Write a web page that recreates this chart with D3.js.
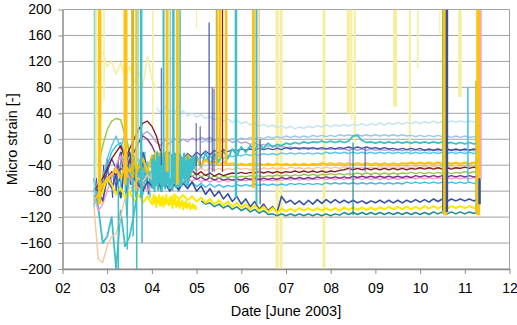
<!DOCTYPE html>
<html>
<head>
<meta charset="utf-8">
<script src="https://cdn.jsdelivr.net/npm/d3@7"></script>
<style>
  body { margin: 0; background: #fff; }
  text { font-family: Arial, "Liberation Sans", sans-serif; }
</style>
</head>
<body>
<svg id="chart" width="517" height="325"></svg>
<script>
// sample times in days of June 2003 (logger every 0.1 day), 2.7 .. 11.3
const days = d3.range(27, 114).map(d => d / 10)
// dense samples: start-up (2.72 .. 3.96) and the noisy stretch (4.0 .. 5.0)
const earlyDays = d3.range(68, 100).map(d => d / 25)
const noiseDays = d3.range(200, 251).map(d => d / 50)

const xTicks = [2, 3, 4, 5, 6, 7, 8, 9, 10, 11, 12]
const yTicks = [-200, -160, -120, -80, -40, 0, 40, 80, 120, 160, 200]

// micro strain per sensor (null = no reading / off scale)
const paleYellow = [null, null, 135, 112, 120, 100, 118, 96, 112, 88,
  105, 82, 128, 92, 78]

const paleCyan = [null, null, null, null, null, null, null, null, null, null,
  null, null, null, null, 48, 40, 50, 42, 45, 38,
  44, 36, 40, 34, 38, 32, 35, 30, 33, 28,
  31, 26, 29, 24, 27, 22, 25, 20, 23, 19,
  22, 18, 21, 17, 20, 16, 19, 17, 20, 18,
  21, 19, 22, 19, 22, 20, 23, 20, 23, 21,
  24, 21, 24, 22, 25, 22, 25, 23, 26, 23,
  26, 24, 27, 24, 27, 25, 28, 25, 28, 26,
  28, 26, 28, 26, 28, 27, 28]

const paleBlue = [null, null, null, null, null, null, null, null, null, null,
  null, null, null, null, null, null, null, null, null, null,
  null, null, null, null, -5, -2, -4, -1, -3, 0,
  -2, 1, -1, 2, 0, 3, 1, 3, 1, 4,
  2, 4, 2, 5, 3, 5, 3, 5, 3, 6,
  4, 6, 4, 6, 4, 7, 5, 7, 5, 7,
  5, 7, 5, 7, 5, 7, 5, 7, 5, 7,
  5, 6, 4, 6, 4, 6, 4, 6, 4, 5,
  3, 5, 3, 5, 3, 4, 3]

const lavender = [null, null, null, null, -80, -60, -40, -50, -30, -20,
  -5, 8, 12, 5, -5, -10, 0, -8, 2, -5,
  0, -4, 2, -2, 3, 0, 3, -2, 2, -4,
  0, -5, -2, -6, -4, -8, -6, -9, -8, -11,
  -10, -12, -11, -13, -12, -14, -13, -15, -13, -15,
  -14, -16, -14, -16, -14, -16, -15, -17, -15, -17,
  -15, -17, -15, -17, -16, -17, -16, -18, -16, -18,
  -16, -18, -16, -18, -16, -18, -16, -18, -16, -18,
  -16, -18, -16, -18, -16, -18, -17]

const navy2 = [-100, -90, -70, -50, -30, -45, -20, -60, -30, -50,
  -40, -20, -45, -30, -50, -35, -40, -20, -35, -25,
  -30, -22, -28, -20, -25, -18, -24, -17, -22, -16,
  -19, -16, -18, -15, -17, -15, -17, -14, -16, -14,
  -16, -14, -16, -13, -15, -13, -15, -13, -15, -13,
  -15, -13, -15, -13, -15, -13, -14, -12, -14, -12,
  -14, -12, -14, -13, -15, -13, -15, -14, -16, -14,
  -16, -14, -16, -14, -17, -15, -17, -15, -17, -15,
  -17, -15, -17, -15, -17, -15, -16]

const cyan = [null, null, -60, -30, -10, 5, -15, 10, -20, -40,
  -30, -50, -35, -45, -30, -40, -28, -38, -30, -36,
  -30, -34, -28, -33, -27, -32, -26, -31, -25, -30,
  -25, -27, -24, -26, -23, -25, -23, -25, -22, -24,
  -22, -24, -21, -23, -21, -23, -21, -23, -21, -23,
  -21, -23, -20, -22, -20, -22, -20, -22, -20, -22,
  -20, -22, -20, -22, -20, -22, -20, -22, -20, -22,
  -20, -22, -20, -22, -20, -22, -20, -22, -20, -22,
  -20, -22, -20, -22, -20, -22, -21]

const turq = [-60, -105, -160, -150, -120, -200, -110, -165, -150, -115,
  -70, -80, -40, -75, -30, -80, -20, -75, -25, -80,
  -30, -70, -35, -25, -45, -20, -40, -22, -35, -18,
  -30, -15, -25, -12, -20, -10, -16, -8, -14, -6,
  -12, -8, -10, -6, -8, -5, -7, -4, -6, -4,
  -5, -3, -5, -3, -5, -3, -5, -3, 5, 6,
  -2, -5, -4, -6, -4, -6, -4, -6, -4, -6,
  -4, -6, -4, -6, -4, -6, -4, -6, -4, -6,
  -5, -7, -5, -7, -5, -7, -6]

const lightBlue = [-95, -80, -60, -40, -20, -10, -5, -25, -45, -60,
  -55, -62, -50, -65, -58, -68, -60, -70, -62, -72,
  -64, -72, -66, -73, -68, -74, -69, -74, -70, -74,
  -71, -73, -70, -72, -70, -72, -69, -71, -69, -71,
  -69, -71, -69, -71, -68, -70, -68, -70, -68, -70,
  -68, -70, -67, -69, -67, -69, -67, -69, -67, -69,
  -67, -69, -67, -69, -67, -69, -67, -69, -67, -69,
  -66, -68, -66, -68, -66, -68, -66, -68, -66, -68,
  -66, -68, -66, -68, -66, -68, -67]

const pink = [-85, -110, -100, -80, -60, -40, -25, -45, -60, -70,
  -75, -68, -80, -70, -72, -65, -70, -62, -68, -60,
  -66, -60, -65, -60, -66, -62, -66, -62, -66, -63,
  -65, -63, -65, -63, -64, -62, -64, -62, -64, -62,
  -64, -62, -63, -61, -63, -61, -63, -61, -63, -61,
  -62, -60, -62, -60, -62, -60, -62, -60, -62, -60,
  -62, -60, -62, -60, -62, -60, -62, -60, -62, -60,
  -61, -59, -61, -59, -61, -59, -61, -59, -61, -59,
  -61, -59, -61, -59, -61, -59, -60]

const purple = [-90, -85, -75, -60, -50, -55, -45, -50, -35, -20,
  -5, 5, 0, -10, -25, -40, -50, -55, -52, -58,
  -55, -60, -57, -62, -58, -63, -59, -63, -60, -63,
  -61, -63, -61, -63, -60, -62, -60, -62, -60, -62,
  -60, -62, -59, -61, -59, -61, -59, -61, -59, -61,
  -58, -60, -58, -60, -58, -60, -58, -60, -57, -59,
  -57, -59, -57, -59, -57, -59, -57, -59, -57, -59,
  -57, -59, -56, -58, -56, -58, -56, -58, -56, -58,
  -56, -58, -56, -58, -56, -58, -57]

const green = [null, -40, -10, 15, 28, 32, 30, 5, -20, -40,
  -50, -45, -55, -48, -58, -50, -60, -52, -58, -50,
  -56, -50, -57, -52, -58, -54, -60, -56, -60, -57,
  -59, -57, -59, -57, -58, -56, -58, -56, -58, -56,
  -57, -55, -57, -55, -57, -55, -56, -54, -56, -54,
  -56, -54, -55, -53, -55, -53, -55, -53, -54, -52,
  -54, -52, -54, -52, -54, -52, -54, -52, -54, -52,
  -53, -51, -53, -51, -53, -51, -53, -51, -53, -51,
  -53, -51, -52, -50, -52, -50, -51]

const peach = [-100, -185, -190, -165, -150, -145, -120, -90, -75, -70,
  -60, -65, -55, -62, -50, -58, -48, -55, -45, -52,
  -44, -50, -42, -48, -44, -49, -44, -48, -45, -48,
  -45, -47, -44, -46, -45, -47, -45, -47, -44, -46,
  -44, -46, -44, -46, -43, -45, -44, -46, -44, -46,
  -43, -45, -43, -45, -43, -45, -42, -44, -43, -45,
  -43, -45, -43, -45, -42, -44, -42, -44, -42, -44,
  -42, -44, -42, -44, -42, -44, -42, -44, -42, -44,
  -42, -44, -42, -44, -42, -44, -43]

const darkRed = [-80, -70, -60, -45, -30, -20, -10, -30, -15, 0,
  15, 25, 28, 20, 5, -20, -35, -45, -40, -50,
  -45, -52, -48, -55, -50, -56, -52, -57, -53, -56,
  -54, -52, -53, -51, -53, -51, -52, -50, -52, -50,
  -52, -50, -52, -50, -51, -49, -51, -49, -51, -49,
  -51, -49, -51, -49, -50, -48, -47, -45, -47, -45,
  -47, -45, -47, -45, -47, -45, -47, -45, -47, -45,
  -47, -45, -46, -44, -46, -44, -46, -44, -46, -44,
  -46, -44, -45, -43, -45, -43, -44]

const teal = [null, null, null, null, null, null, null, null, null, null,
  null, null, null, null, null, null, null, null, null, null,
  null, null, null, null, -95, -100, -98, -104, -100, -106,
  -102, -108, -104, -110, -106, -112, -108, -114, -110, -116,
  -115, -118, -115, -118, -115, -118, -115, -118, -115, -118,
  -115, -118, -115, -118, -115, -117, -113, -116, -113, -116,
  -113, -116, -113, -116, -113, -116, -113, -116, -113, -116,
  -113, -116, -113, -116, -113, -116, -112, -115, -112, -115,
  -112, -115, -112, -115, -112, -114, -113]

const navy = [-75, -80, -95, -60, -75, -55, -90, -40, -20, -60,
  -70, -80, -65, -72, -60, -75, -68, -80, -70, -78,
  -68, -76, -66, -80, -72, -85, -76, -88, -80, -92,
  -84, -96, -88, -100, -92, -104, -96, -108, -100, -110,
  -104, -113, -88, -98, -94, -100, -95, -101, -94, -100,
  -93, -99, -93, -98, -93, -98, -94, -98, -94, -98,
  -95, -99, -95, -98, -94, -98, -94, -98, -94, -98,
  -94, -97, -93, -97, -93, -97, -92, -96, -92, -96,
  -92, -95, -92, -95, -92, -95, -93]

const yellow = [null, -95, -80, -60, -70, -85, -75, -90, -80, -95,
  -85, -98, -88, -100, -90, -102, -92, -100, -85, -92,
  -86, -94, -88, -96, -90, -98, -92, -100, -94, -102,
  -96, -104, -98, -106, -100, -108, -102, -110, -104, -112,
  -106, -113, -107, -111, -107, -111, -106, -110, -106, -110,
  -106, -110, -106, -110, -106, -110, -105, -109, -105, -109,
  -105, -109, -105, -109, -105, -108, -104, -108, -104, -108,
  -104, -108, -104, -108, -103, -107, -103, -107, -103, -107,
  -103, -106, -103, -106, -103, -106, -104]

const gold = [-95, -85, -70, -60, -55, -45, -60, -40, -50, -35,
  -45, -30, -50, -25, -40, -20, -45, -28, -35, -22,
  -38, -25, -35, -30, -40, -32, -38, -34, -40, -35,
  -39, -37, -40, -38, -40, -38, -40, -38, -40, -38,
  -40, -38, -40, -38, -40, -38, -40, -38, -40, -38,
  -39, -37, -39, -37, -39, -37, -39, -37, -39, -37,
  -39, -37, -39, -37, -39, -37, -39, -37, -39, -37,
  -38, -36, -38, -36, -38, -36, -38, -36, -38, -36,
  -38, -36, -38, -36, -38, -36, -37]

// dense readings at start-up, day 2.72 .. 3.96
const navyEarly = [-80, -60, -95, -50, -85, -40, -75, -30, -70, -55,
  -90, -45, -80, -35, -65, -20, -60, -45, -85, -40,
  -70, -30, -60, -50, -80, -40, -75, -25, -65, -45,
  -85, -50]
const turqEarly = [null, null, null, null, null, null, null, null, null, null,
  null, null, null, null, -40, -90, -30, -70, -120, -60,
  -35, -80, -25, -100, -45, -70, -30, -85, -20, -65,
  -40, -90]

// dense readings, day 4.0 .. 5.0
const turqNoise = [-30, -75, -25, -80, -35, -70, -20, -78, -28, -65,
  -22, -80, -30, -72, -25, -76, -35, -68, -20, -75,
  -30, -70, -25, -78, -32, -66, -22, -74, -28, -70,
  -35, -62, -25, -72, -30, -60, -22, -68, -35, -58,
  -28, -65, -32, -55, -30, -50, -30, -45, -28, -40,
  -30]
const goldNoise = [-30, -45, -25, -40, -20, -48, -28, -38, -22, -45,
  -30, -42, -25, -50, -32, -40, -24, -46, -30, -38,
  -26, -44, -32, -40, -28, -46, -34, -40, -30, -44,
  -35, -42, -30, -45, -36, -40, -32, -44, -36, -42,
  -34, -45, -38, -42, -36, -44, -36, -42, -38, -40,
  -38]
const yellowNoise = [-90, -100, -85, -98, -88, -105, -92, -96, -86, -102,
  -90, -98, -88, -104, -92, -100, -86, -98, -94, -102,
  -90, -100, -88, -106, -94, -100, -90, -104, -96, -102,
  -92, -106, -98, -102, -94, -108, -98, -104, -96, -106,
  -100, -104, -98, -108, -102, -106, -100, -106, -102, -108,
  -104]

// excursions that run off the scale: [day, low, high, sensor, width]
const backSpikes = [
  [2.75, -60, 200, "paleYellow", 2], [2.93, 60, 200, "paleYellow", 1.5],
  [4.02, 20, 200, "paleYellow", 1.5], [5.0, 170, 200, "paleYellow", 1],
  [6.80, -200, 200, "paleYellow", 3], [6.89, -200, 200, "paleYellow", 3],
  [7.85, -200, 200, "paleYellow", 3], [8.40, 40, 200, "paleYellow", 4],
  [8.47, 30, 200, "paleYellow", 1.5], [8.54, -5, 200, "paleYellow", 2],
  [9.44, 50, 200, "paleYellow", 4], [9.77, -25, 200, "paleYellow", 2],
  [9.95, 110, 200, "paleYellow", 1.5], [10.44, 160, 200, "paleYellow", 1],
  [10.89, 65, 200, "paleYellow", 3.5]
]
const frontSpikes = [
  [2.715, -105, 200, "lightTurq", 1.5], [2.83, -100, 200, "gold", 3.5],
  [3.25, -200, -60, "turq", 1.5], [3.41, -70, 200, "gold", 4],
  [3.45, -170, -60, "turq", 1.5], [3.57, -60, 200, "olive", 3],
  [3.58, -150, -60, "turq", 1.5], [3.65, -80, 200, "gold", 2],
  [3.66, -200, -80, "turq", 1.5], [3.69, -40, 200, "lightTurq", 1.5],
  [3.76, -90, 200, "turq", 2.5], [3.78, -160, -70, "turq", 1.5],
  [4.21, -40, 110, "navy2", 1],
  [4.26, -70, 200, "turq", 2], [4.34, -50, 200, "gold", 3],
  [4.41, -60, 200, "lightTurq", 1.5], [4.48, -40, 200, "turq", 2.5],
  [4.57, -70, 200, "gold", 3], [4.63, -60, 200, "turq", 1.5],
  [4.99, -60, 25, "navy2", 1], [5.08, -40, 20, "navy2", 1],
  [5.28, -60, 180, "navy2", 1.2], [5.35, -50, 80, "navy2", 1],
  [5.39, -50, 78, "navy2", 1], [5.45, -40, 200, "olive", 2],
  [5.52, -30, 200, "gold", 3], [5.58, -50, 200, "darkRed", 1.2],
  [5.66, -40, 200, "gold", 2.5], [5.88, -90, 200, "turq", 2.5],
  [6.27, -75, 200, "gold", 3], [6.34, -100, 200, "turq", 2],
  [6.40, -60, 200, "peach", 1.5], [6.42, -100, 0, "navy", 1.2],
  [8.43, -57, -14, "lavender", 1.2], [8.50, -117, -5, "teal", 1.2],
  [8.77, -50, -12, "navy2", 1], [10.51, -115, 200, "green", 2],
  [10.53, -110, -55, "navy", 3], [10.56, -117, 200, "gold", 4],
  [10.60, -112, 200, "navy", 2.5], [11.07, -65, 80, "lightBlue", 1.5],
  [11.25, -115, 90, "green", 1.5], [11.30, -117, 200, "gold", 4],
  [11.33, -100, -60, "navy", 2.5], [11.36, -62, 200, "pink", 1.5]
]

const colors = {
  paleYellow: "#f6ee9f", paleCyan: "#c6e4f0", paleBlue: "#9ec5ea",
  lavender: "#b3a2d8", navy2: "#4454a6", cyan: "#57c7ea", turq: "#3fbfc6",
  lightBlue: "#3cbdf0", pink: "#f29ac4", purple: "#7a2f8f", green: "#95c84a",
  peach: "#f9c59b", darkRed: "#8b1c24", teal: "#1a8c8a", navy: "#3850a0",
  yellow: "#ffe800", gold: "#ffc20e", olive: "#cdbb2a", lightTurq: "#86d7d9"
}

const series = [
  {key: "paleYellow", values: paleYellow, w: 1.5},
  {key: "paleCyan", values: paleCyan, w: 1.5},
  {key: "paleBlue", values: paleBlue, w: 1.4},
  {key: "lavender", values: lavender, w: 1.4},
  {key: "navy2", values: navy2, w: 1.4},
  {key: "cyan", values: cyan, w: 1.4},
  {key: "turq", values: turq, w: 1.8},
  {key: "lightBlue", values: lightBlue, w: 1.4},
  {key: "pink", values: pink, w: 1.4},
  {key: "purple", values: purple, w: 1.4},
  {key: "green", values: green, w: 1.4},
  {key: "peach", values: peach, w: 1.4},
  {key: "darkRed", values: darkRed, w: 1.4},
  {key: "teal", values: teal, w: 1.5},
  {key: "navy", values: navy, w: 1.6},
  {key: "yellow", values: yellow, w: 2},
  {key: "gold", values: gold, w: 2.2}
]
const early = [
  {key: "navy", values: navyEarly, w: 1},
  {key: "turq", values: turqEarly, w: 1.3}
]
const noise = [
  {key: "yellow", values: yellowNoise, w: 2},
  {key: "gold", values: goldNoise, w: 2},
  {key: "turq", values: turqNoise, w: 2.2}
]

const x = d3.scaleLinear().domain([2, 12]).range([62.5, 509.5])
const y = d3.scaleLinear().domain([-200, 200]).range([269, 9.5])

const svg = d3.select("#chart")

svg.append("defs").append("clipPath").attr("id", "plot")
    .append("rect")
    .attr("x", x(2)).attr("y", y(200))
    .attr("width", x(12) - x(2)).attr("height", y(-200) - y(200))

// gridlines + right frame
svg.append("g")
    .selectAll("line")
    .data(yTicks)
    .join("line")
    .attr("x1", x(2)).attr("x2", x(12))
    .attr("y1", d => y(d)).attr("y2", d => y(d))
    .attr("stroke", "#a3a3a3")
svg.append("line")
    .attr("x1", x(12)).attr("x2", x(12))
    .attr("y1", y(200)).attr("y2", y(-200))
    .attr("stroke", "#a3a3a3")

const plot = svg.append("g").attr("clip-path", "url(#plot)")
    .attr("fill", "none")
    .attr("stroke-linejoin", "round")

const spike = (g, data) => g.selectAll("line")
    .data(data)
    .join("line")
    .attr("x1", d => x(d[0])).attr("x2", d => x(d[0]))
    .attr("y1", d => y(d[1])).attr("y2", d => y(d[2]))
    .attr("stroke", d => colors[d[3]])
    .attr("stroke-width", d => d[4])

spike(plot.append("g"), backSpikes)

const line = d3.line()
    .defined(d => d[1] != null)
    .x(d => x(d[0]))
    .y(d => y(d[1]))

const drawSet = (set, t) => plot.append("g")
    .selectAll("path")
    .data(set)
    .join("path")
    .attr("d", s => line(t.map((d, i) => [d, s.values[i]])))
    .attr("stroke", s => colors[s.key])
    .attr("stroke-width", s => s.w)

drawSet(early, earlyDays)
drawSet(series, days)
drawSet(noise, noiseDays)

spike(plot.append("g"), frontSpikes)

// axes
const xAxis = svg.append("g")
    .attr("transform", `translate(0,${y(-200)})`)
    .call(d3.axisBottom(x).tickValues(xTicks).tickFormat(d3.format("02d"))
        .tickSizeInner(5).tickSizeOuter(0).tickPadding(9))
const yAxis = svg.append("g")
    .attr("transform", `translate(${x(2)},0)`)
    .call(d3.axisLeft(y).tickValues(yTicks)
        .tickSizeInner(4).tickSizeOuter(0).tickPadding(7))

for (const g of [xAxis, yAxis]) {
    g.select(".domain").attr("stroke", "#8c8c8c").attr("stroke-width", 1.5)
    g.selectAll(".tick line").attr("stroke", "#8c8c8c")
    g.selectAll("text").attr("font-size", 14).attr("fill", "#000")
        .attr("font-family", "Arial, 'Liberation Sans', sans-serif")
}

svg.append("text")
    .attr("x", (x(2) + x(12)) / 2).attr("y", 316)
    .attr("text-anchor", "middle")
    .attr("font-size", 14.5)
    .text("Date [June 2003]")

svg.append("text")
    .attr("transform", `translate(17,${(y(200) + y(-200)) / 2}) rotate(-90)`)
    .attr("text-anchor", "middle")
    .attr("font-size", 14.5)
    .text("Micro strain [-]")
</script>
</body>
</html>
